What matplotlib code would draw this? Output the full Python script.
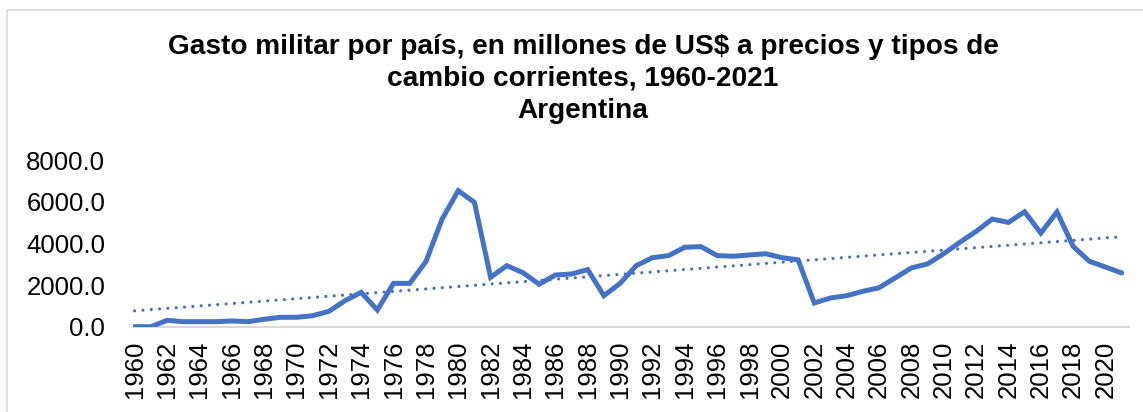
import matplotlib
matplotlib.use("Agg")
import matplotlib.pyplot as plt
from matplotlib.patches import Rectangle
import numpy as np

years = list(range(1960, 2022))
values = [20, 10, 320, 255, 255, 255, 290, 255, 370, 465,
          465, 540, 750, 1260, 1660, 815, 2090, 2090, 3130, 5170,
          6530, 5970, 2380, 2940, 2600, 2050, 2490, 2540, 2750, 1500,
          2090, 2940, 3320, 3420, 3820, 3850, 3420, 3390, 3450, 3510,
          3320, 3220, 1150, 1390, 1500, 1710, 1880, 2350, 2830, 3020,
          3510, 4060, 4580, 5170, 5010, 5520, 4500, 5510, 3860, 3150,
          2870, 2590]
yticks = [0, 2000, 4000, 6000, 8000]
title_lines = ["Gasto militar por país, en millones de US$ a precios y tipos de",
               "cambio corrientes, 1960-2021",
               "Argentina"]

plt.rcParams['font.family'] = ['Liberation Sans', 'DejaVu Sans']
color = '#4472C4'

W, H = 1143, 412
fig = plt.figure(figsize=(W / 100, H / 100), dpi=100)
ax = fig.add_axes([133 / W, 1 - 327 / H, (1129 - 133) / W, (327 - 160) / H])

x = np.array(years)
y = np.array(values, dtype=float)
ax.plot(x, y, color=color, lw=3.6, solid_joinstyle='miter', solid_capstyle='round', zorder=3)
coef = np.polyfit(x, y, 1)
ax.plot(x, np.polyval(coef, x), color=color, lw=2.3, linestyle=(0, (0.01, 2.6)),
        dash_capstyle='round', zorder=2)

ax.set_xlim(1959.9, 2021.45)
ax.set_ylim(0, 8000)
ax.set_yticks(yticks)
ax.set_yticklabels([f"{v:.1f}" for v in yticks])
ax.set_xticks(years[::2])
ax.set_xticklabels([str(v) for v in years[::2]], rotation=90)
ax.tick_params(axis='both', length=0, labelsize=18.5, colors='black')
ax.tick_params(axis='y', pad=20)
ax.tick_params(axis='x', pad=10)
for s in ['top', 'right', 'left']:
    ax.spines[s].set_visible(False)
ax.spines['bottom'].set_color('#D9D9D9')
ax.spines['bottom'].set_linewidth(1.5)
ax.spines['bottom'].set_zorder(1)
ax.patch.set_alpha(0)

ys = [47, 79, 111]
for t, yy in zip(title_lines, ys):
    fig.text(583 / W, 1 - yy / H, t, ha='center', va='center',
             fontsize=20.2, fontweight='bold')

fig.patches.append(Rectangle((7 / W, -0.1), 1.2, 1 - 10 / H + 0.1,
                             transform=fig.transFigure, fill=False,
                             edgecolor='#D9D9D9', lw=1.2, zorder=0))

fig.savefig("out.png", dpi=100)
